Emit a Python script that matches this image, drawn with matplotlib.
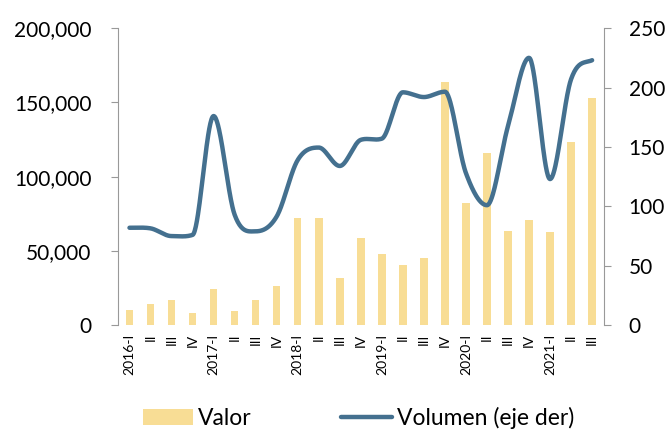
import numpy as np
import matplotlib
matplotlib.use("Agg")
import matplotlib.pyplot as plt
from matplotlib.ticker import FuncFormatter
from matplotlib.patches import Patch
from matplotlib.lines import Line2D

categories = ["2016-I", "II", "III", "IV",
              "2017-I", "II", "III", "IV",
              "2018-I", "II", "III", "IV",
              "2019-I", "II", "III", "IV",
              "2020-I", "II", "III", "IV",
              "2021-I", "II", "III"]
valor = [10500, 14100, 16800, 7900, 24200, 9400, 16800, 26500,
         72400, 72400, 31600, 58500, 47800, 40200, 45100, 164000,
         82300, 115700, 63700, 71100, 62600, 123100, 152800]
volumen = [82, 81.5, 75, 76, 176, 93, 79, 91.5, 139, 149.5, 134, 156,
           157, 196, 192, 196.5, 128, 101, 167.5, 225, 123, 207, 223]

bar_color = "#F8DD95"
line_color = "#44708F"

plt.rcParams['font.family'] = ['Lato', 'DejaVu Sans']

fig = plt.figure(figsize=(6.7, 4.33), dpi=100)
ax = fig.add_axes([0.176, 0.249, 0.725, 0.686])
x = np.arange(len(categories))
ax.bar(x, valor, width=0.36, color=bar_color, zorder=1)
ax.set_xlim(-0.55, len(categories) - 0.45)
ax.set_ylim(0, 200000)
ax.set_yticks(np.arange(0, 200001, 50000))
ax.yaxis.set_major_formatter(FuncFormatter(lambda v, p: f"{int(v):,}"))

ax2 = ax.twinx()
ax2.set_ylim(0, 250)
ax2.set_yticks(np.arange(0, 251, 50))

# Smoothed line: Catmull-Rom tangents, softly limited to avoid large overshoot
xs = x.astype(float)
ys = np.array(volumen, dtype=float)
n = len(ys)
d = np.diff(ys)
m = np.zeros(n)
for i in range(1, n - 1):
    cr = (ys[i + 1] - ys[i - 1]) / 2.0
    if d[i - 1] * d[i] <= 0:
        m[i] = 0.0
    else:
        lim = 6 * min(abs(d[i - 1]), abs(d[i]))
        m[i] = np.sign(cr) * min(abs(cr), lim)
m[0] = d[0] * 0.5
m[-1] = d[-1] * 0.5
cx, cy = [], []
t = np.linspace(0, 1, 40)
h00 = 2 * t ** 3 - 3 * t ** 2 + 1
h10 = t ** 3 - 2 * t ** 2 + t
h01 = -2 * t ** 3 + 3 * t ** 2
h11 = t ** 3 - t ** 2
for i in range(n - 1):
    cx.extend(xs[i] + t)
    cy.extend(h00 * ys[i] + h10 * m[i] + h01 * ys[i + 1] + h11 * m[i + 1])
ax2.plot(cx, cy, color=line_color, lw=3.2, solid_capstyle='round', zorder=3)

for a in (ax, ax2):
    a.spines['top'].set_visible(False)
    a.spines['bottom'].set_visible(False)
    a.spines['left'].set_color('#999999')
    a.spines['right'].set_color('#999999')
ax.spines['right'].set_visible(False)
ax2.spines['left'].set_visible(False)

ax.tick_params(axis='y', direction='out', length=5, color='#999999', labelsize=15, pad=14)
ax2.tick_params(axis='y', direction='out', length=5, color='#999999', labelsize=15, pad=13)
ax.set_xticks(x)
ax.set_xticklabels(categories, rotation=90, fontsize=10)
ax.tick_params(axis='x', length=0, pad=6)

handles = [Patch(facecolor=bar_color, edgecolor='none'),
           Line2D([0], [0], color=line_color, lw=3.2, solid_capstyle='round')]
fig.legend(handles, ["Valor", "Volumen (eje der)"], loc='center',
           bbox_to_anchor=(0.535, 0.035), ncol=2, frameon=False, fontsize=16.5,
           handlelength=2.2, handletextpad=0.22, columnspacing=3.9)

fig.savefig("out.png", dpi=100)
